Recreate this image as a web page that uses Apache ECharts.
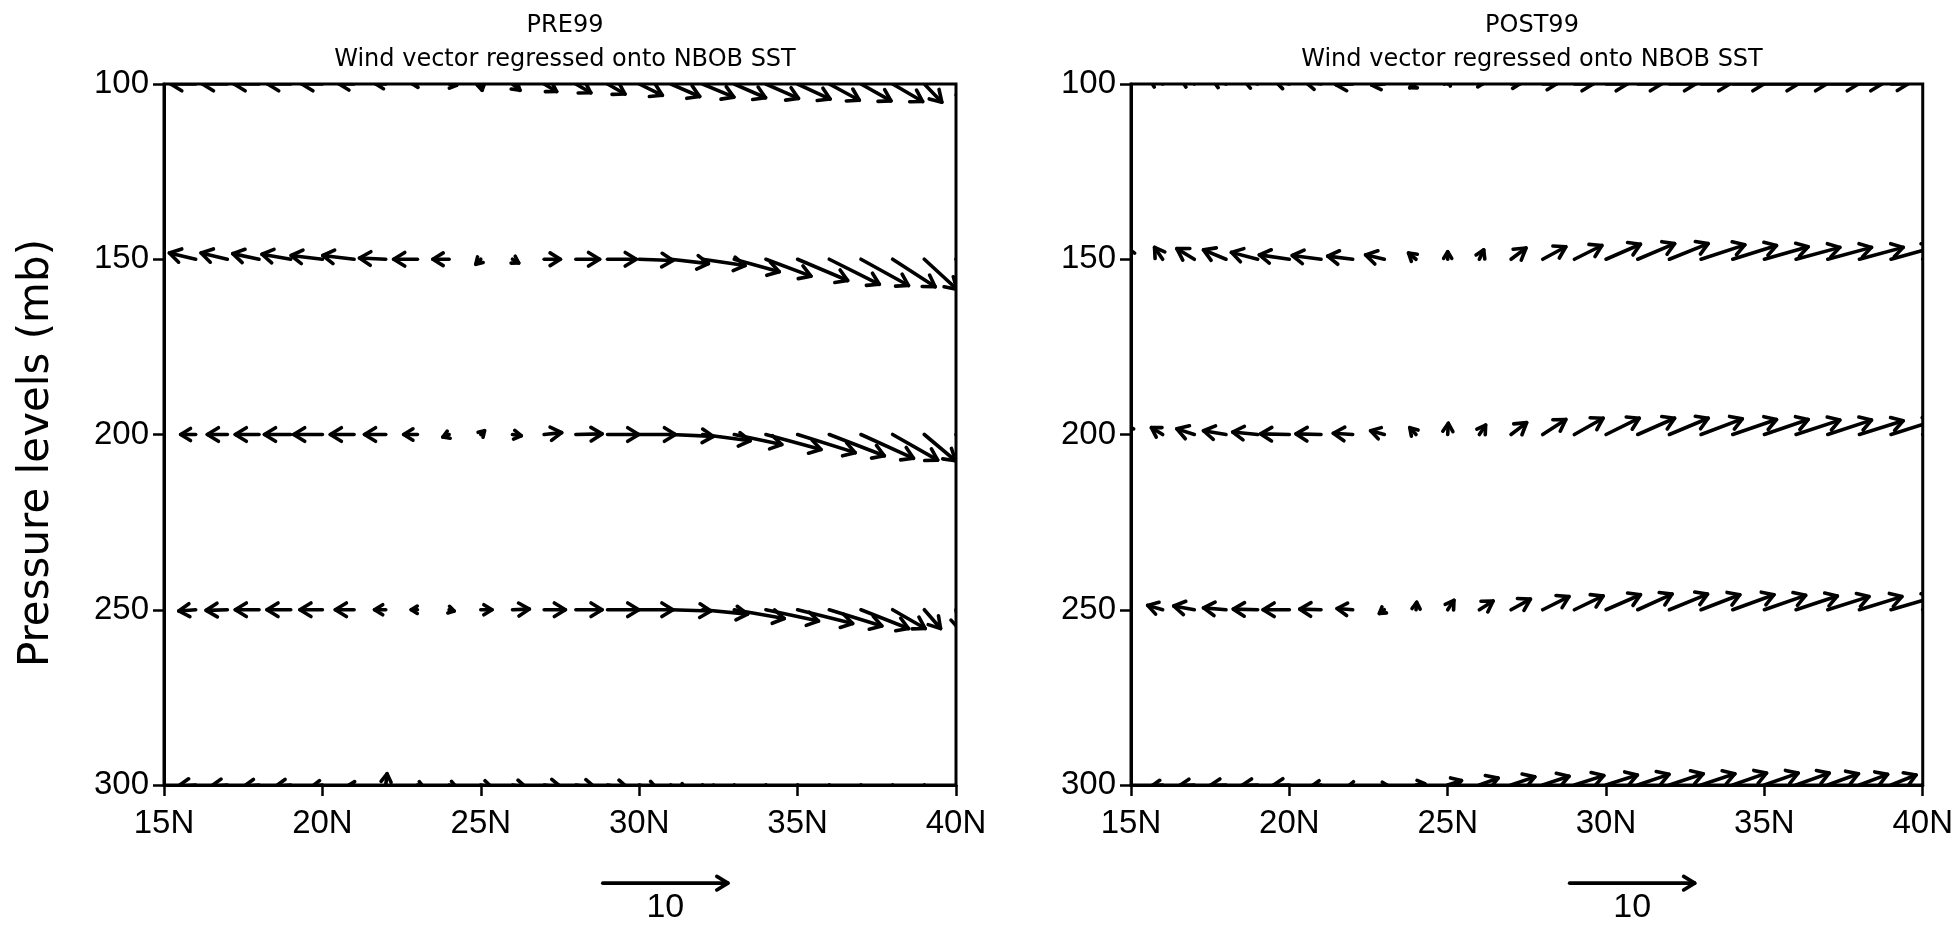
<!DOCTYPE html>
<html lang="en">
<head>
<meta charset="UTF-8" />
<title>Wind vector regressed onto NBOB SST</title>
<style>
  html, body { margin: 0; padding: 0; background: #fff; }
  #main { width: 1956px; height: 927px; }
</style>
</head>
<body>
<div id="main"></div>
<script src="https://cdn.jsdelivr.net/npm/echarts@6/dist/echarts.min.js"></script>
<script>
const myChart = echarts.init(document.getElementById('main'))

// latitudes (deg N) and pressure levels (mb)
const lats = [15, 16, 17, 18, 19, 20, 21, 22, 23, 24, 25, 26, 27, 28, 29, 30, 31, 32, 33, 34, 35, 36, 37, 38, 39, 40]
const levels = [100, 150, 200, 250, 300]
const panelNames = ['PRE99', 'POST99']

// vector components, one row per level (100 -> 300), one value per latitude
// u = meridional (horizontal on page), w = vertical (up on page)
const pre99U = [
  [-2.0, -2.0, -2.0, -2.0, -1.85, -1.65, -1.2, -0.8, -0.4, 0.6, 0.1, 0.6, 1.0, 1.2, 1.4, 1.85, 2.3, 2.5, 2.5, 2.6, 2.6, 2.4, 2.4, 2.4, 1.4, 1.0],
  [-2.0, -2.1, -2.1, -2.1, -2.3, -2.5, -2.5, -2.1, -1.9, -1.3, -0.4, 0.5, 1.3, 1.9, 2.3, 2.7, 3.0, 3.4, 3.6, 3.6, 4.0, 4.0, 3.8, 3.4, 2.6, 2.0],
  [-1.0, -1.2, -1.6, -1.9, -2.1, -2.3, -1.9, -1.7, -1.1, -0.5, 0.3, 0.7, 1.4, 2.1, 2.5, 2.9, 3.4, 3.8, 3.8, 4.4, 4.6, 4.4, 4.2, 3.6, 2.5, 2.0],
  [-1.2, -1.35, -1.7, -1.9, -1.9, -1.8, -1.5, -0.9, -0.5, 0.4, 0.9, 1.35, 1.7, 2.1, 2.5, 2.7, 3.2, 3.6, 4.0, 4.2, 4.4, 4.2, 3.8, 2.6, 1.3, 0.3],
  [-1.4, -1.4, -1.3, -1.2, -1.2, -0.8, -0.4, 0.1, 0.5, 0.6, 0.9, 1.1, 1.4, 1.6, 1.7, 1.6, 1.4, 1.2, 1.1, 1.0, 1.0, 1.0, 1.0, 0.9, 0.8, 0.7]
]
const pre99W = [
  [0, 0, 0, 0, 0, 0, 0, 0, 0, -0.1, -0.5, -0.5, -0.6, -0.7, -0.8, -0.9, -1.0, -1.05, -1.1, -1.15, -1.2, -1.3, -1.35, -1.4, -1.45, -1.2],
  [0.55, 0.5, 0.5, 0.45, 0.4, 0.3, 0.3, 0.1, 0, 0, -0.4, -0.3, 0, 0, 0, -0.1, -0.35, -0.5, -1.0, -1.35, -1.7, -2.0, -2.1, -2.2, -2.4, -2.5],
  [0, 0, 0, 0, 0, 0, 0, 0, 0, -0.2, 0.3, -0.1, 0.15, 0.05, 0, 0, -0.15, -0.5, -0.8, -1.2, -1.45, -1.7, -1.9, -2.05, -2.1, -2.2],
  [-0.1, -0.1, -0.05, 0, 0, 0, 0, 0, 0, -0.1, 0, 0.05, 0, 0, 0, 0, -0.1, -0.35, -0.7, -0.9, -1.1, -1.3, -1.5, -1.5, -1.5, -1.6],
  [-0.1, -0.1, -0.1, -0.1, -0.1, -0.1, 0, 0.9, -0.2, -0.2, -0.2, -0.2, -0.2, -0.25, -0.3, -0.5, -0.8, -1.0, -1.1, -1.2, -1.2, -1.2, -1.2, -1.2, -1.2, -1.2]
]
const post99U = [
  [-1.2, -1.2, -1.2, -1.2, -1.2, -1.2, -1.3, -1.35, -1.0, -0.5, 0.1, 0.25, 0.7, 1.1, 1.5, 1.7, 1.9, 2.1, 2.3, 2.5, 2.7, 2.45, 2.45, 1.8, 1.35, 1.0],
  [-0.4, -0.65, -1.4, -1.8, -2.1, -2.4, -2.3, -2.0, -1.5, -0.6, 0.0, 0.35, 1.2, 1.85, 2.2, 2.75, 2.95, 3.1, 3.5, 3.5, 3.5, 3.5, 3.5, 3.5, 3.4, 3.3],
  [-0.5, -0.9, -1.4, -1.8, -2.0, -2.3, -2.0, -1.55, -1.1, -0.5, 0.05, 0.5, 1.25, 1.85, 2.3, 2.65, 2.95, 3.1, 3.3, 3.5, 3.5, 3.5, 3.5, 3.5, 3.5, 3.5],
  [-1.0, -1.2, -1.65, -1.8, -1.95, -2.1, -1.7, -1.25, -0.4, 0.05, 0.5, 1.1, 1.55, 2.1, 2.3, 2.75, 2.75, 3.05, 3.1, 3.3, 3.3, 3.3, 3.3, 3.4, 3.4, 3.4],
  [-0.8, -0.85, -1.2, -1.3, -1.3, -1.35, -0.7, -0.3, 0.2, 0.7, 1.1, 1.5, 1.9, 2.1, 2.35, 2.5, 2.5, 2.7, 2.7, 2.7, 2.7, 2.65, 2.45, 2.25, 2.0, 1.8]
]
const post99W = [
  [0.6, 0.6, 0.6, 0.5, 0.4, 0.3, 0.2, -0.05, -0.1, -0.3, 0.3, 0, 0, 0, 0, 0, 0, 0, 0, 0, 0, 0, 0, 0, 0, 0],
  [1.0, 0.95, 0.85, 0.75, 0.55, 0.35, 0.3, 0.25, 0.35, 0.5, 0.6, 0.75, 0.9, 1.0, 1.1, 1.2, 1.25, 1.25, 1.15, 1.1, 1.0, 0.95, 0.95, 0.95, 0.95, 0.95],
  [0.8, 0.55, 0.45, 0.3, 0.2, 0.05, 0.05, 0.1, 0.3, 0.55, 0.9, 0.75, 0.95, 1.2, 1.3, 1.3, 1.3, 1.3, 1.25, 1.2, 1.2, 1.15, 1.15, 1.1, 1.1, 1.1],
  [0.4, 0.35, 0.3, 0.15, 0.05, 0, 0.05, 0.1, -0.3, 0.6, 0.75, 0.7, 0.85, 1.05, 1.1, 1.2, 1.25, 1.25, 1.2, 1.2, 1.15, 1.1, 1.05, 1.05, 1.0, 1.0],
  [0, -0.05, -0.05, -0.05, -0.05, -0.05, -0.05, -0.05, 0, 0.1, 0.35, 0.55, 0.65, 0.7, 0.75, 0.8, 0.85, 0.9, 0.9, 0.95, 0.95, 0.95, 0.9, 0.85, 0.8, 0.8]
]

// reference vector under each panel
const refLength = 10
const refLat = 28.85
const refLevel = 328

// 10 units of wind are drawn as long as ~3.95 deg of latitude
const DEG_PER_UNIT = 0.395
const FONT = 'DejaVu Sans'
const TICK_FONT = 'Liberation Sans'

function buildVectors(U, W) {
  const out = []
  levels.forEach((p, i) => {
    lats.forEach((lat, j) => {
      out.push([lat, p, U[i][j], W[i][j]])
    })
  })
  return out
}

// arrow with tail on the grid point, open head
function drawArrow(api, withLabel) {
  const lat = api.value(0)
  const p = api.value(1)
  const u = api.value(2)
  const w = api.value(3)
  const start = api.coord([lat, p])
  const unit = api.size([DEG_PER_UNIT, 0], [lat, p])[0]
  const dx = u * unit
  const dy = -w * unit
  const len = Math.sqrt(dx * dx + dy * dy)
  if (len < 0.5) return null
  const ex = start[0] + dx
  const ey = start[1] + dy
  const ang = Math.atan2(dy, dx)
  const h = Math.min(13, 4 + len * 0.5)
  const a = 0.55
  const style = { stroke: '#000', fill: null, lineWidth: 3.6, lineCap: 'round', lineJoin: 'round' }
  const children = [
    { type: 'line', shape: { x1: start[0], y1: start[1], x2: ex, y2: ey }, style: style },
    {
      type: 'polyline',
      shape: {
        points: [
          [ex - h * Math.cos(ang - a), ey - h * Math.sin(ang - a)],
          [ex, ey],
          [ex - h * Math.cos(ang + a), ey - h * Math.sin(ang + a)]
        ]
      },
      style: style
    }
  ]
  if (withLabel) {
    children.push({
      type: 'text',
      x: (start[0] + ex) / 2,
      y: start[1] + 24,
      style: {
        text: String(u),
        fill: '#000',
        font: '34px ' + TICK_FONT,
        align: 'center',
        verticalAlign: 'middle'
      }
    })
  }
  return { type: 'group', children: children }
}

const panels = [
  { left: 164, data: buildVectors(pre99U, pre99W) },
  { left: 1131, data: buildVectors(post99U, post99W) }
]

const option = {
  backgroundColor: '#fff',
  animation: false,
  title: panels.map((pn, i) => ({
    text: panelNames[i],
    subtext: 'Wind vector regressed onto NBOB SST',
    left: pn.left + 396,
    top: 9,
    textAlign: 'center',
    itemGap: 10,
    textStyle: { fontFamily: FONT, fontSize: 24, fontWeight: 'normal', color: '#000' },
    subtextStyle: { fontFamily: FONT, fontSize: 24, color: '#000' }
  })),
  grid: panels.map((pn) => ({
    left: pn.left,
    top: 84,
    width: 792,
    height: 701,
    show: true,
    borderColor: '#000',
    borderWidth: 3,
    backgroundColor: 'transparent'
  })),
  xAxis: panels.map((pn, i) => ({
    type: 'value',
    gridIndex: i,
    min: 15,
    max: 40,
    interval: 5,
    axisLine: { show: true, lineStyle: { color: '#000', width: 3 } },
    axisTick: { show: true, length: 11, lineStyle: { color: '#000', width: 2.5 } },
    splitLine: { show: false },
    axisLabel: {
      margin: 22,
      fontFamily: TICK_FONT,
      fontSize: 33,
      color: '#000',
      formatter: (v) => v + 'N'
    }
  })),
  yAxis: panels.map((pn, i) => ({
    type: 'value',
    gridIndex: i,
    inverse: true,
    min: 100,
    max: 300,
    interval: 50,
    axisLine: { show: true, lineStyle: { color: '#000', width: 3 } },
    axisTick: { show: true, length: 11, lineStyle: { color: '#000', width: 2.5 } },
    splitLine: { show: false },
    axisLabel: { margin: 15, fontFamily: TICK_FONT, fontSize: 33, color: '#000' }
  })),
  graphic: [
    {
      type: 'text',
      x: 37,
      y: 453,
      rotation: Math.PI / 2,
      style: {
        text: 'Pressure levels (mb)',
        fill: '#000',
        font: '42px ' + FONT,
        align: 'center',
        verticalAlign: 'middle'
      }
    }
  ],
  series: []
}

panels.forEach((pn, i) => {
  option.series.push({
    type: 'custom',
    name: panelNames[i],
    xAxisIndex: i,
    yAxisIndex: i,
    clip: true,
    data: pn.data,
    renderItem: (params, api) => drawArrow(api, false)
  })
  option.series.push({
    type: 'custom',
    name: panelNames[i] + ' reference',
    xAxisIndex: i,
    yAxisIndex: i,
    clip: false,
    data: [[refLat, refLevel, refLength, 0]],
    renderItem: (params, api) => drawArrow(api, true)
  })
})

myChart.setOption(option)
</script>
</body>
</html>
